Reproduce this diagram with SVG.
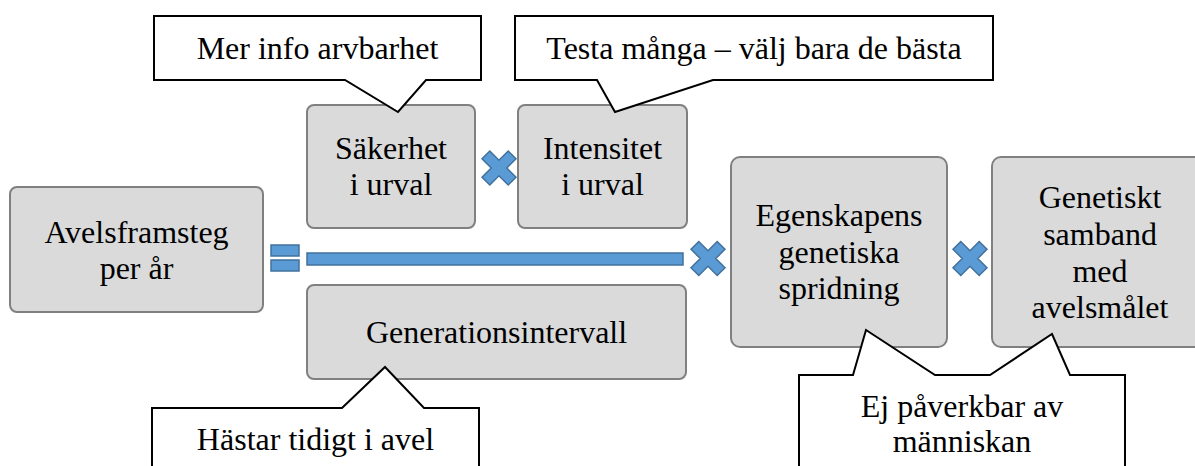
<svg xmlns="http://www.w3.org/2000/svg" width="1195" height="466" viewBox="0 0 1195 466">
<style>
  .box { fill: #dadada; stroke: #808080; stroke-width: 2; }
  .call { fill: #ffffff; stroke: #000000; stroke-width: 2; stroke-linejoin: miter; }
  .sym { fill: #5b9bd5; stroke: #41719c; stroke-width: 1.5; }
  .t { font-family: 'Liberation Serif', 'Times New Roman', 'DejaVu Serif', Times, serif; font-size: 32px; fill: #000000; text-anchor: middle; }
</style>
<defs>
  <polygon id="mul" points="5.5,-18.5 5.5,-5.5 18.5,-5.5 18.5,5.5 5.5,5.5 5.5,18.5 -5.5,18.5 -5.5,5.5 -18.5,5.5 -18.5,-5.5 -5.5,-5.5 -5.5,-18.5" transform="rotate(45)"/>
</defs>
<rect width="1195" height="466" fill="#ffffff"/>

<g id="n-avelsframsteg">
  <rect class="box" x="10" y="187" width="253" height="125" rx="7"/>
  <text class="t" font-family="Liberation Serif, serif" x="136.5" y="243">Avelsframsteg</text>
  <text class="t" font-family="Liberation Serif, serif" x="136.5" y="279">per år</text>
</g>
<g id="n-sakerhet">
  <rect class="box" x="307" y="105" width="168" height="123" rx="7"/>
  <text class="t" x="391" y="159">Säkerhet</text>
  <text class="t" x="391" y="195">i urval</text>
</g>
<g id="n-intensitet">
  <rect class="box" x="518" y="105" width="169" height="123" rx="7"/>
  <text class="t" x="602.5" y="159">Intensitet</text>
  <text class="t" x="602.5" y="195">i urval</text>
</g>
<g id="n-generationsintervall">
  <rect class="box" x="307" y="285" width="379" height="94" rx="7"/>
  <text class="t" x="496.5" y="343">Generationsintervall</text>
</g>
<g id="n-egenskapens">
  <rect class="box" x="731" y="157" width="216" height="190" rx="9"/>
  <text class="t" x="839" y="226">Egenskapens</text>
  <text class="t" x="839" y="263">genetiska</text>
  <text class="t" x="839" y="299">spridning</text>
</g>
<g id="n-genetiskt">
  <rect class="box" x="992" y="157" width="216" height="190" rx="9"/>
  <text class="t" x="1100" y="208">Genetiskt</text>
  <text class="t" x="1100" y="245">samband</text>
  <text class="t" x="1100" y="282">med</text>
  <text class="t" x="1100" y="318">avelsmålet</text>
</g>

<g id="connectors">
  <rect class="sym" x="271" y="245" width="28" height="11"/>
  <rect class="sym" x="271" y="260" width="28" height="11"/>
  <rect class="sym" x="307" y="253" width="376" height="12"/>
  <use href="#mul" class="sym" x="499" y="168"/>
  <use href="#mul" class="sym" x="708" y="258.5"/>
  <use href="#mul" class="sym" x="970" y="258.5"/>
</g>

<g id="c-mer-info">
  <path class="call" d="M154,16 H481 V80 H426 L398,112 L345,80 H154 Z"/>
  <text class="t" x="317.5" y="59">Mer info arvbarhet</text>
</g>
<g id="c-testa">
  <path class="call" d="M515,16 H993 V80 H713 L615,112 L597,80 H515 Z"/>
  <text class="t" x="754" y="59">Testa många – välj bara de bästa</text>
</g>
<g id="c-hastar">
  <path class="call" d="M152,470 V408 H342 L385,367 L424,408 H479 V470"/>
  <text class="t" x="315.5" y="450">Hästar tidigt i avel</text>
</g>
<g id="c-ej">
  <path class="call" d="M799,470 V375 H853 L866,330 L935,375 H990 L1052,334 L1070,375 H1125 V470"/>
  <text class="t" x="962" y="417">Ej påverkbar av</text>
  <text class="t" x="962" y="452">människan</text>
</g>
</svg>
